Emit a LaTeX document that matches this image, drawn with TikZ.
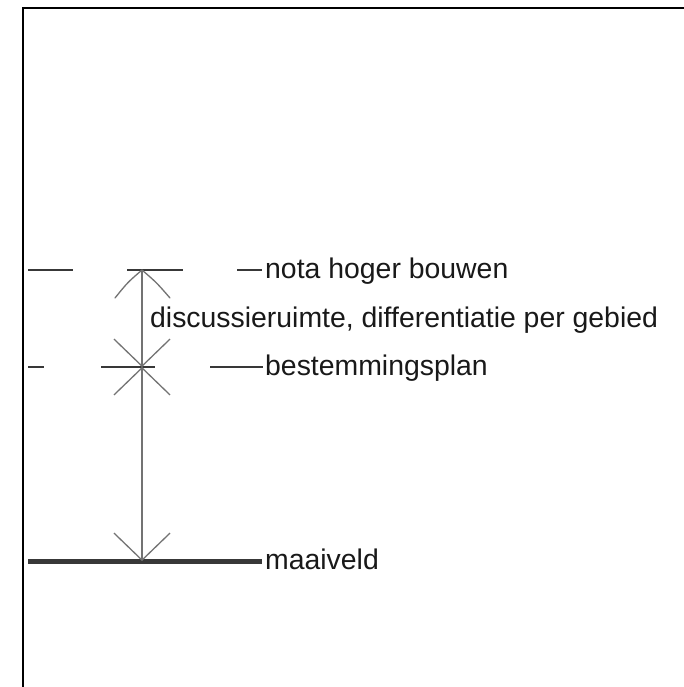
\documentclass[tikz,border=0pt]{standalone}
\usepackage{fontspec}
\setmainfont{Liberation Sans}
\usetikzlibrary{arrows.meta}
\begin{document}
\begin{tikzpicture}[x=1pt,y=-1pt,
  frame/.style={line width=2.8pt,draw=black},
  level/.style={line width=2.8pt,draw=black!78},
  ground/.style={line width=5pt,draw=black!78},
  barb/.tip={Straight Barb[length=27pt,width=56pt]},
  dimline/.style={line width=1.3pt,draw=black!55},
  wing/.style={line width=1.3pt,draw=black!55,line cap=round},
  lbl/.style={font=\fontsize{28.4}{30}\selectfont,anchor=base west,inner sep=0pt,text=black!90}]
\useasboundingbox (0,0) rectangle (684,687);
\fill[white] (0,0) rectangle (684,687);
% frame
\draw[frame] (23,687) -- (23,8) -- (684,8);
% levels
\draw[level] (28,270) -- (73,270);
\draw[level] (127,270) -- (183,270);
\draw[level] (237,270) -- (262,270);
\draw[level] (28,367) -- (44,367);
\draw[level] (101,367) -- (155,367);
\draw[level] (210,367) -- (263,367);
\draw[ground] (28,561) -- (262,561);
% dimension arrows
\coordinate (t) at (142,270);
\coordinate (m) at (142,367);
\coordinate (b) at (142,561);
\coordinate (tl) at (115,298);
\coordinate (tr) at (170,298);
\draw[dimline,-barb] (t) -- (m);
\draw[wing] (t) .. controls (127.5,282.5) .. (tl);
\draw[wing] (t) .. controls (156.5,282.5) .. (tr);
\draw[dimline,barb-barb] (m) -- (b);
% labels
\node[lbl] (nota) at (265,278) {nota hoger bouwen};
\node[lbl] (disc) at (150,327) {discussieruimte, differentiatie per gebied};
\node[lbl] (best) at (265,375) {bestemmingsplan};
\node[lbl] (maai) at (265,569) {maaiveld};
\end{tikzpicture}
\end{document}
